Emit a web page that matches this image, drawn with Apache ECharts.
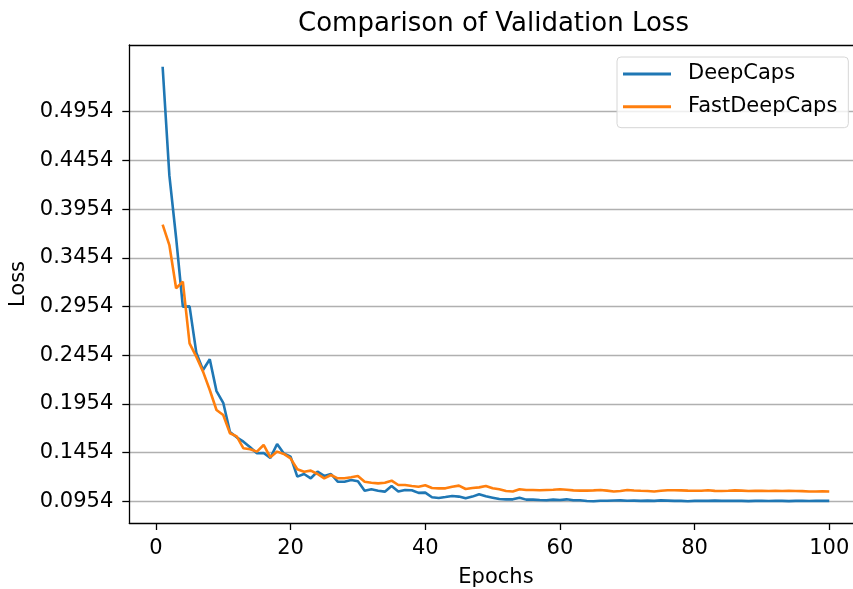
<!DOCTYPE html>
<html>
<head>
<meta charset="utf-8">
<script src="https://cdn.jsdelivr.net/npm/echarts@6/dist/echarts.min.js"></script>
<style>
  html, body { margin: 0; background: #fff; }
  #chart { width: 853px; height: 589px; }
</style>
</head>
<body>
<div id="chart"></div>
<script>
const epochs = [
  1, 2, 3, 4, 5, 6, 7, 8, 9, 10, 11, 12, 13, 14, 15, 16, 17, 18, 19, 20,
  21, 22, 23, 24, 25, 26, 27, 28, 29, 30, 31, 32, 33, 34, 35, 36, 37, 38, 39, 40,
  41, 42, 43, 44, 45, 46, 47, 48, 49, 50, 51, 52, 53, 54, 55, 56, 57, 58, 59, 60,
  61, 62, 63, 64, 65, 66, 67, 68, 69, 70, 71, 72, 73, 74, 75, 76, 77, 78, 79, 80,
  81, 82, 83, 84, 85, 86, 87, 88, 89, 90, 91, 92, 93, 94, 95, 96, 97, 98, 99, 100
]

const deepCaps = [
  0.5416, 0.430, 0.366, 0.2952, 0.2955, 0.248, 0.2302, 0.2412, 0.2085, 0.1965,
  0.1665, 0.1611, 0.1566, 0.1508, 0.1447, 0.1450, 0.1400, 0.1542, 0.1445, 0.1413,
  0.1207, 0.1234, 0.1190, 0.1258, 0.1214, 0.1234, 0.1155, 0.1155, 0.1172, 0.1160,
  0.1063, 0.1077, 0.1063, 0.1053, 0.1111, 0.1055, 0.1070, 0.1068, 0.1040, 0.1043,
  0.0995, 0.0988, 0.0998, 0.1009, 0.1002, 0.0984, 0.1002, 0.1026, 0.1005, 0.0991,
  0.0977, 0.0974, 0.0974, 0.0991, 0.0971, 0.0971, 0.0967, 0.0964, 0.0971, 0.0967,
  0.0974, 0.0964, 0.0964, 0.0957, 0.0954, 0.0960, 0.0960, 0.0962, 0.0963, 0.0960,
  0.0961, 0.0958, 0.0961, 0.0958, 0.0963, 0.0961, 0.0958, 0.0958, 0.0955, 0.0958,
  0.0959, 0.0958, 0.0961, 0.0958, 0.0958, 0.0960, 0.0958, 0.0956, 0.0958, 0.0960,
  0.0957, 0.0958, 0.0958, 0.0956, 0.0958, 0.0960, 0.0957, 0.0958, 0.0959, 0.0958
]

const fastDeepCaps = [
  0.3794, 0.3585, 0.3141, 0.3209, 0.2576, 0.2439, 0.2285, 0.2097, 0.1891, 0.1840,
  0.1652, 0.1620, 0.1498, 0.1488, 0.1464, 0.1532, 0.1406, 0.1464, 0.1440, 0.1395,
  0.1283, 0.1258, 0.1269, 0.1234, 0.1190, 0.1224, 0.1190, 0.1190, 0.1200, 0.1214,
  0.1155, 0.1145, 0.1138, 0.1145, 0.1166, 0.1121, 0.1121, 0.1111, 0.1104, 0.1118,
  0.1090, 0.1087, 0.1087, 0.1104, 0.1115, 0.1080, 0.1090, 0.1097, 0.1111, 0.1087,
  0.1077, 0.1060, 0.1055, 0.1077, 0.1070, 0.1070, 0.1068, 0.1070, 0.1072, 0.1077,
  0.1072, 0.1066, 0.1063, 0.1063, 0.1066, 0.1070, 0.1063, 0.1055, 0.1060, 0.1070,
  0.1065, 0.1062, 0.1060, 0.1055, 0.1062, 0.1068, 0.1068, 0.1066, 0.1063, 0.1062,
  0.1062, 0.1068, 0.1061, 0.1060, 0.1062, 0.1066, 0.1063, 0.1060, 0.1061, 0.1062,
  0.1060, 0.1061, 0.1060, 0.1061, 0.1060, 0.1058, 0.1055, 0.1055, 0.1056, 0.1055
]

const yTicks = [0.0954, 0.1454, 0.1954, 0.2454, 0.2954, 0.3454, 0.3954, 0.4454, 0.4954]
const xTicks = [0, 20, 40, 60, 80, 100]

const font = 'DejaVu Sans'
const chart = echarts.init(document.getElementById('chart'))

chart.setOption({
  animation: false,
  textStyle: { fontFamily: font },
  title: {
    text: 'Comparison of Validation Loss',
    left: 298,
    top: 11,
    padding: 0,
    textStyle: { fontFamily: font, fontSize: 26, fontWeight: 'normal', color: '#000' }
  },
  legend: {
    orient: 'vertical',
    left: 617,
    top: 57,
    padding: [6, 11, 10, 6],
    itemGap: 10.7,
    itemWidth: 48,
    itemHeight: 3,
    icon: 'rect',
    backgroundColor: 'rgba(255,255,255,0.8)',
    borderColor: '#d6d6d6',
    borderWidth: 1,
    borderRadius: 4,
    textStyle: { fontFamily: font, fontSize: 21, color: '#000', lineHeight: 22, padding: [0, 0, 0, 12] },
    data: ['DeepCaps', 'FastDeepCaps']
  },
  grid: {
    left: 129.3,
    top: 45,
    width: 733.3,
    bottom: 66,
    outerBoundsMode: 'none',
    show: false
  },
  xAxis: [
    {
      type: 'value',
      min: -3.95,
      max: 104.95,
      name: 'Epochs',
      nameLocation: 'middle',
      nameGap: 44,
      nameTextStyle: { fontFamily: font, fontSize: 21, color: '#000' },
      axisLine: { show: true, onZero: false, lineStyle: { color: '#000', width: 1.3 } },
      axisTick: { show: true, length: 7, customValues: xTicks, lineStyle: { color: '#000', width: 1.3 } },
      axisLabel: { customValues: xTicks, margin: 15, fontFamily: font, fontSize: 21, color: '#000' },
      splitLine: { show: false }
    },
    {
      type: 'value',
      position: 'top',
      min: -3.95,
      max: 104.95,
      axisLine: { show: true, onZero: false, lineStyle: { color: '#000', width: 1.3 } },
      axisTick: { show: false },
      axisLabel: { show: false },
      splitLine: { show: false }
    }
  ],
  yAxis: {
    type: 'value',
    min: 0.0731,
    max: 0.5639,
    name: 'Loss',
    nameLocation: 'middle',
    nameGap: 97,
    nameTextStyle: { fontFamily: font, fontSize: 21, color: '#000' },
    axisLine: { show: true, onZero: false, lineStyle: { color: '#000', width: 1.3 } },
    axisTick: { show: true, length: 7, customValues: yTicks, lineStyle: { color: '#000', width: 1.3 } },
    axisLabel: {
      customValues: yTicks,
      margin: 16,
      fontFamily: font,
      fontSize: 21,
      color: '#000',
      formatter: (v) => v.toFixed(4)
    },
    splitLine: { show: true, lineStyle: { color: '#b0b0b0', width: 1.3 } }
  },
  series: [
    {
      name: 'DeepCaps',
      type: 'line',
      showSymbol: false,
      color: '#1f77b4',
      lineStyle: { width: 2.6, color: '#1f77b4' },
      data: epochs.map((e, i) => [e, deepCaps[i]])
    },
    {
      name: 'FastDeepCaps',
      type: 'line',
      showSymbol: false,
      color: '#ff7f0e',
      lineStyle: { width: 2.6, color: '#ff7f0e' },
      data: epochs.map((e, i) => [e, fastDeepCaps[i]])
    }
  ]
})
</script>
</body>
</html>
